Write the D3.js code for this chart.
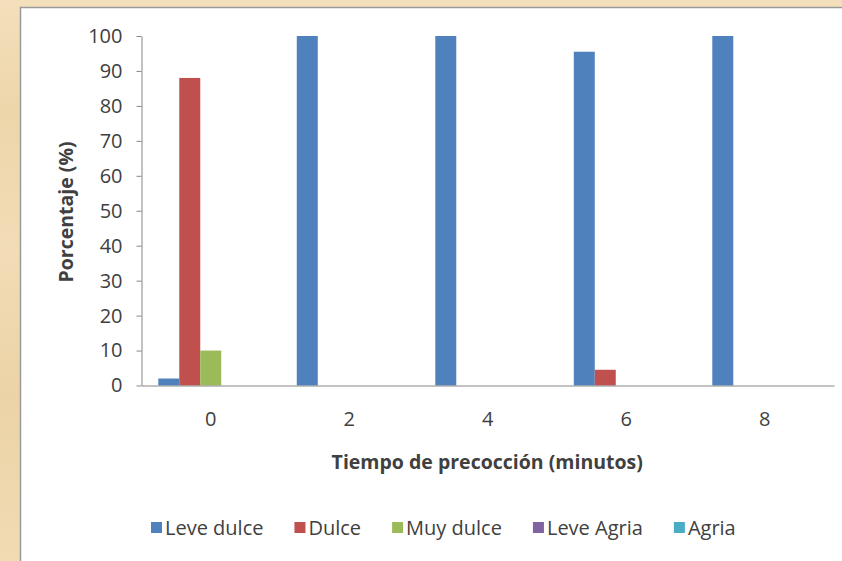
<!DOCTYPE html>
<html>
<head>
<meta charset="utf-8">
<script src="https://cdn.jsdelivr.net/npm/d3@7"></script>
<style>
  html, body { margin: 0; padding: 0; background: #f0d9b0; }
  svg { display: block; }
  text { font-family: "Open Sans", "DejaVu Sans", sans-serif; fill: #404040; }
</style>
</head>
<body>
<svg id="chart" width="842" height="561"></svg>
<script>
// Pre-cooking time (minutes) and the share of each sweetness rating
const categories = ["0", "2", "4", "6", "8"];
const seriesNames = ["Leve dulce", "Dulce", "Muy dulce", "Leve Agria", "Agria"];
const leveDulce = [2, 100, 100, 95.5, 100];
const dulce = [88, 0, 0, 4.5, 0];
const muyDulce = [10, 0, 0, 0, 0];
const leveAgria = [0, 0, 0, 0, 0];
const agria = [0, 0, 0, 0, 0];
const yTicks = [0, 10, 20, 30, 40, 50, 60, 70, 80, 90, 100];
const colors = ["#4f81bd", "#c0504d", "#9bbb59", "#8064a2", "#4bacc6"];

const seriesValues = [leveDulce, dulce, muyDulce, leveAgria, agria];

const svg = d3.select("#chart");
const W = 842, H = 561;

// wooden frame strip on the left and top
const defs = svg.append("defs");
const wood = defs.append("linearGradient").attr("id", "wood")
  .attr("x1", 0).attr("y1", 0).attr("x2", 0).attr("y2", 1);
[["0%", "#f3dfbb"], ["20%", "#eed6ab"], ["45%", "#f2dcb6"], ["70%", "#ecd3a7"], ["100%", "#f1dbb3"]]
  .forEach(([o, c]) => wood.append("stop").attr("offset", o).attr("stop-color", c));
svg.append("rect").attr("width", W).attr("height", H).attr("fill", "url(#wood)");

// chart panel
svg.append("rect")
  .attr("x", 20.5).attr("y", 7.5)
  .attr("width", W).attr("height", H)
  .attr("fill", "#ffffff")
  .attr("stroke", "#9a9a9a").attr("stroke-width", 1.5);

const plot = { left: 141.5, right: 834, top: 36, bottom: 385.5 };

const x0 = d3.scaleBand().domain(categories).range([plot.left, plot.right]).padding(0);
const x1 = d3.scaleBand().domain(seriesNames).range([0, x0.bandwidth()])
  .paddingInner(0).paddingOuter(0.8);
const y = d3.scaleLinear().domain([0, 100]).range([plot.bottom, plot.top]);

// bars
const groups = svg.append("g").selectAll("g")
  .data(categories).join("g")
  .attr("transform", d => `translate(${x0(d)},0)`);

groups.selectAll("rect")
  .data((d, i) => seriesNames.map((s, k) => ({ s, k, v: seriesValues[k][i] })))
  .join("rect")
  .filter(d => d.v > 0)
  .attr("x", d => x1(d.s))
  .attr("width", x1.bandwidth())
  .attr("y", d => y(d.v))
  .attr("height", d => y(0) - y(d.v))
  .attr("fill", d => colors[d.k]);

// y axis
const yAxis = svg.append("g")
  .attr("transform", `translate(${plot.left},0)`)
  .call(d3.axisLeft(y).tickValues(yTicks).tickSize(5).tickPadding(14).tickSizeOuter(0));
yAxis.select(".domain").attr("stroke", "#868686");
yAxis.selectAll(".tick line").attr("stroke", "#868686");
yAxis.selectAll(".tick text")
  .attr("font-size", 20).attr("fill", "#404040")
  .attr("font-family", "'Open Sans', sans-serif");

// x axis
const xAxis = svg.append("g")
  .attr("transform", `translate(0,${plot.bottom})`)
  .call(d3.axisBottom(x0).tickSize(0).tickPadding(26));
xAxis.select(".domain").attr("stroke", "#868686");
xAxis.selectAll(".tick text")
  .attr("font-size", 20).attr("fill", "#404040")
  .attr("font-family", "'Open Sans', sans-serif");

// axis titles
svg.append("text")
  .attr("x", (plot.left + plot.right) / 2 - 0.5)
  .attr("y", 469)
  .attr("text-anchor", "middle")
  .attr("font-size", 19.5).attr("font-weight", "bold").attr("fill", "#1a1a1a")
  .text("Tiempo de precocción (minutos)");

svg.append("text")
  .attr("transform", "translate(73,212) rotate(-90)")
  .attr("text-anchor", "middle")
  .attr("font-size", 19.5).attr("font-weight", "bold").attr("fill", "#1a1a1a")
  .text("Porcentaje (%)");

// legend
const legend = svg.append("g");
let lx = 151;
seriesNames.forEach((name, k) => {
  legend.append("rect")
    .attr("x", lx).attr("y", 522).attr("width", 11).attr("height", 11)
    .attr("fill", colors[k]);
  const t = legend.append("text")
    .attr("x", lx + 14).attr("y", 535)
    .attr("font-size", 20).attr("fill", "#404040")
    .text(name);
  lx += 14 + t.node().getComputedTextLength() + 31;
});
</script>
</body>
</html>
